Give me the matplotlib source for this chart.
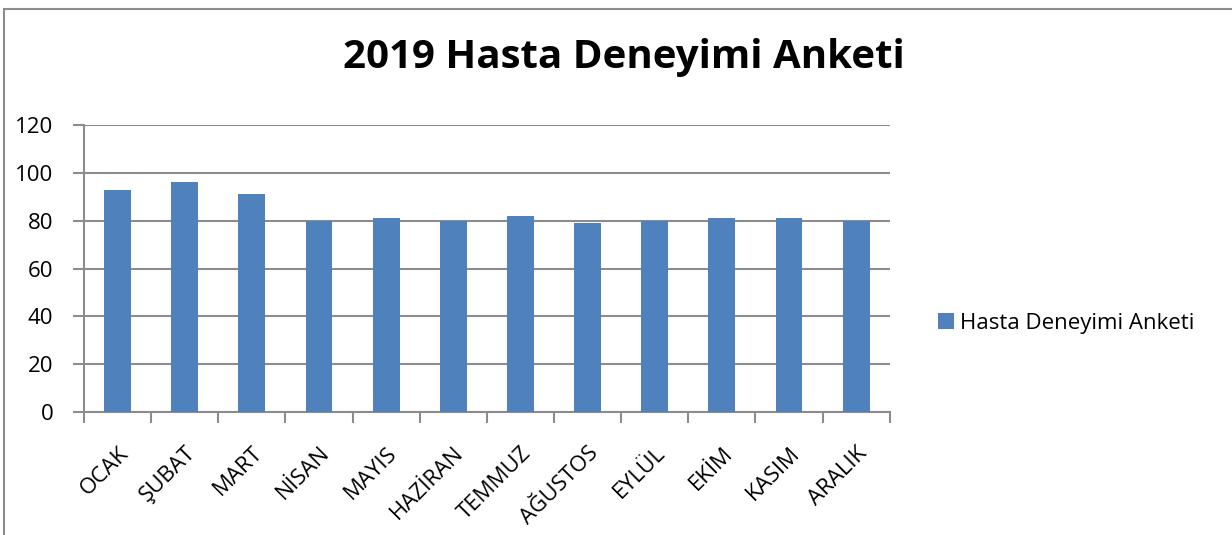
import matplotlib
matplotlib.use('Agg')
import matplotlib.pyplot as plt
import numpy as np
from matplotlib.patches import Rectangle

plt.rcParams['font.family'] = ['Open Sans', 'DejaVu Sans']

# Veriler
months = ['OCAK', 'ŞUBAT', 'MART', 'NİSAN', 'MAYIS', 'HAZİRAN',
          'TEMMUZ', 'AĞUSTOS', 'EYLÜL', 'EKİM', 'KASIM', 'ARALIK']
scores = [93, 96, 91, 80, 81, 80, 82, 79, 80, 81, 81, 80]
series_name = 'Hasta Deneyimi Anketi'
title = '2019 Hasta Deneyimi Anketi'

grid_color = '#8c8c8c'

fig = plt.figure(figsize=(12.32, 5.35), dpi=100)
ax = fig.add_axes([0.0682, 0.2299, 0.654, 0.5364])

x = np.arange(len(months))
ax.bar(x, scores, width=0.4, color='#4F81BD', label=series_name, zorder=3)

ax.set_xlim(-0.5, len(months) - 0.5)
ax.set_ylim(0, 120)
ax.set_yticks(range(0, 121, 20))
ax.yaxis.grid(True, color=grid_color, linewidth=1.5, zorder=0)

# kategori sınırlarında tik çizgileri
ax.set_xticks(np.arange(-0.5, len(months), 1))
ax.set_xticklabels([])
ax.set_xticks(x, minor=True)
ax.set_xticklabels(months, minor=True, rotation=45, ha='right',
                   rotation_mode='anchor', fontsize=16)
ax.tick_params(axis='x', which='minor', length=0, pad=22)
ax.tick_params(axis='x', which='major', length=8, width=1.5, color=grid_color)
ax.tick_params(axis='y', length=8, width=1.5, color=grid_color, labelsize=16, pad=14)

for s in ['top', 'right']:
    ax.spines[s].set_visible(False)
for s in ['left', 'bottom']:
    ax.spines[s].set_color(grid_color)
    ax.spines[s].set_linewidth(1.5)

fig.text(0.506, 1 - 68 / 535, title, ha='center', va='baseline',
         fontsize=29, fontweight='bold')

ax.legend(loc='center left', bbox_to_anchor=(1.035, 0.31), frameon=False,
          fontsize=16, handlelength=0.7, handleheight=0.7, handletextpad=0.3)

# grafik çerçevesi
fig.patches.append(Rectangle((0.003, -0.1), 1.1, 1.083, transform=fig.transFigure,
                             fill=False, edgecolor=grid_color, linewidth=1.5))

fig.savefig('out.png', dpi=100)
